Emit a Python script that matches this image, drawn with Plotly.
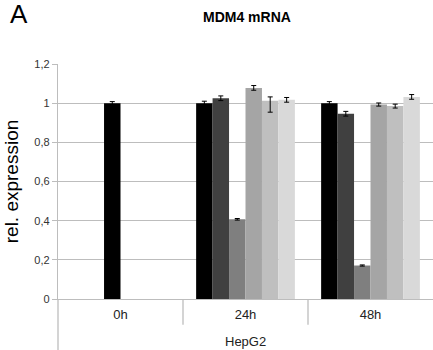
import plotly.graph_objects as go

# Time points on the category axis and the cell line below them
time_points = ["0h", "24h", "48h"]
cell_line = "HepG2"

# Relative MDM4 mRNA expression per condition (six bars per time point)
series_names = ["c1", "c2", "c3", "c4", "c5", "c6"]
values = [
    [None, 1.000, 1.000],
    [None, 1.025, 0.946],
    [1.000, 0.407, 0.171],
    [None, 1.078, 0.993],
    [None, 1.012, 0.985],
    [None, 1.017, 1.032],
]
err_plus = [
    [0, 0.010, 0.008],
    [0, 0.012, 0.012],
    [0.008, 0.004, 0.003],
    [0, 0.012, 0.008],
    [0, 0.020, 0.010],
    [0, 0.012, 0.012],
]
err_minus = [
    [0, 0.010, 0.008],
    [0, 0.012, 0.012],
    [0.008, 0.004, 0.003],
    [0, 0.012, 0.008],
    [0, 0.058, 0.010],
    [0, 0.012, 0.012],
]
colors = ["#000000", "#404040", "#7f7f7f", "#a5a5a5", "#bfbfbf", "#d9d9d9"]
# The 0h reference bar is drawn black
point_colors = [
    [c if not (i == 2 and j == 0) else "#000000" for j in range(3)]
    for i, c in enumerate(colors)
]

FONT = "Arial, Liberation Sans, sans-serif"
AXIS_GRAY = "#bdbdbd"

fig = go.Figure()
for i, name in enumerate(series_names):
    fig.add_trace(go.Bar(
        x=time_points,
        y=values[i],
        name=name,
        marker=dict(color=point_colors[i], line=dict(width=0)),
        error_y=dict(type="data", symmetric=False, array=err_plus[i],
                     arrayminus=err_minus[i], color="#000000",
                     thickness=1, width=2.5),
        showlegend=False,
    ))

# Category dividers below the axis and the outer frame line on the left
shapes = [
    dict(type="line", xref="x", yref="paper", x0=k + 0.5, x1=k + 0.5,
         y0=0, y1=-0.11, line=dict(color=AXIS_GRAY, width=1.3))
    for k in range(len(time_points) - 1)
]
shapes.append(dict(type="line", xref="paper", yref="paper", x0=0, x1=0,
                   y0=0, y1=-0.22, line=dict(color=AXIS_GRAY, width=1.3)))

fig.update_layout(
    width=433, height=350,
    margin=dict(l=58, r=0, t=64, b=51),
    paper_bgcolor="white", plot_bgcolor="white",
    barmode="group", bargap=0.21, bargroupgap=0,
    separators=",.",
    font=dict(family=FONT, color="#222222"),
    shapes=shapes,
    annotations=[
        dict(text="A", xref="paper", yref="paper", x=-0.133, y=1.211,
             xanchor="left", yanchor="middle", showarrow=False,
             font=dict(size=26, family=FONT, color="#000000")),
        dict(text="<b>MDM4 mRNA</b>", xref="paper", yref="paper", x=0.504, y=1.198,
             xanchor="center", yanchor="middle", showarrow=False,
             font=dict(size=14, family=FONT, color="#000000")),
        dict(text=cell_line, xref="paper", yref="paper", x=0.5, y=-0.179,
             xanchor="center", yanchor="middle", showarrow=False,
             font=dict(size=13, family=FONT, color="#222222")),
    ],
)

fig.update_yaxes(
    range=[0, 1.2], tickvals=[0, 0.2, 0.4, 0.6, 0.8, 1, 1.2],
    showgrid=True, gridcolor=AXIS_GRAY, gridwidth=1.3,
    showline=True, linecolor=AXIS_GRAY, linewidth=1.3,
    ticks="outside", ticklen=5, tickcolor=AXIS_GRAY,
    tickfont=dict(size=11, family=FONT, color="#333333"),
    title=dict(text="rel. expression", standoff=10,
               font=dict(size=19, family=FONT, color="#000000")),
    zeroline=False,
)
fig.update_xaxes(
    showline=True, linecolor=AXIS_GRAY, linewidth=1.3,
    tickfont=dict(size=13, family=FONT, color="#222222"),
    ticks="", ticklabelstandoff=3,
)

fig.write_html("out.html")
